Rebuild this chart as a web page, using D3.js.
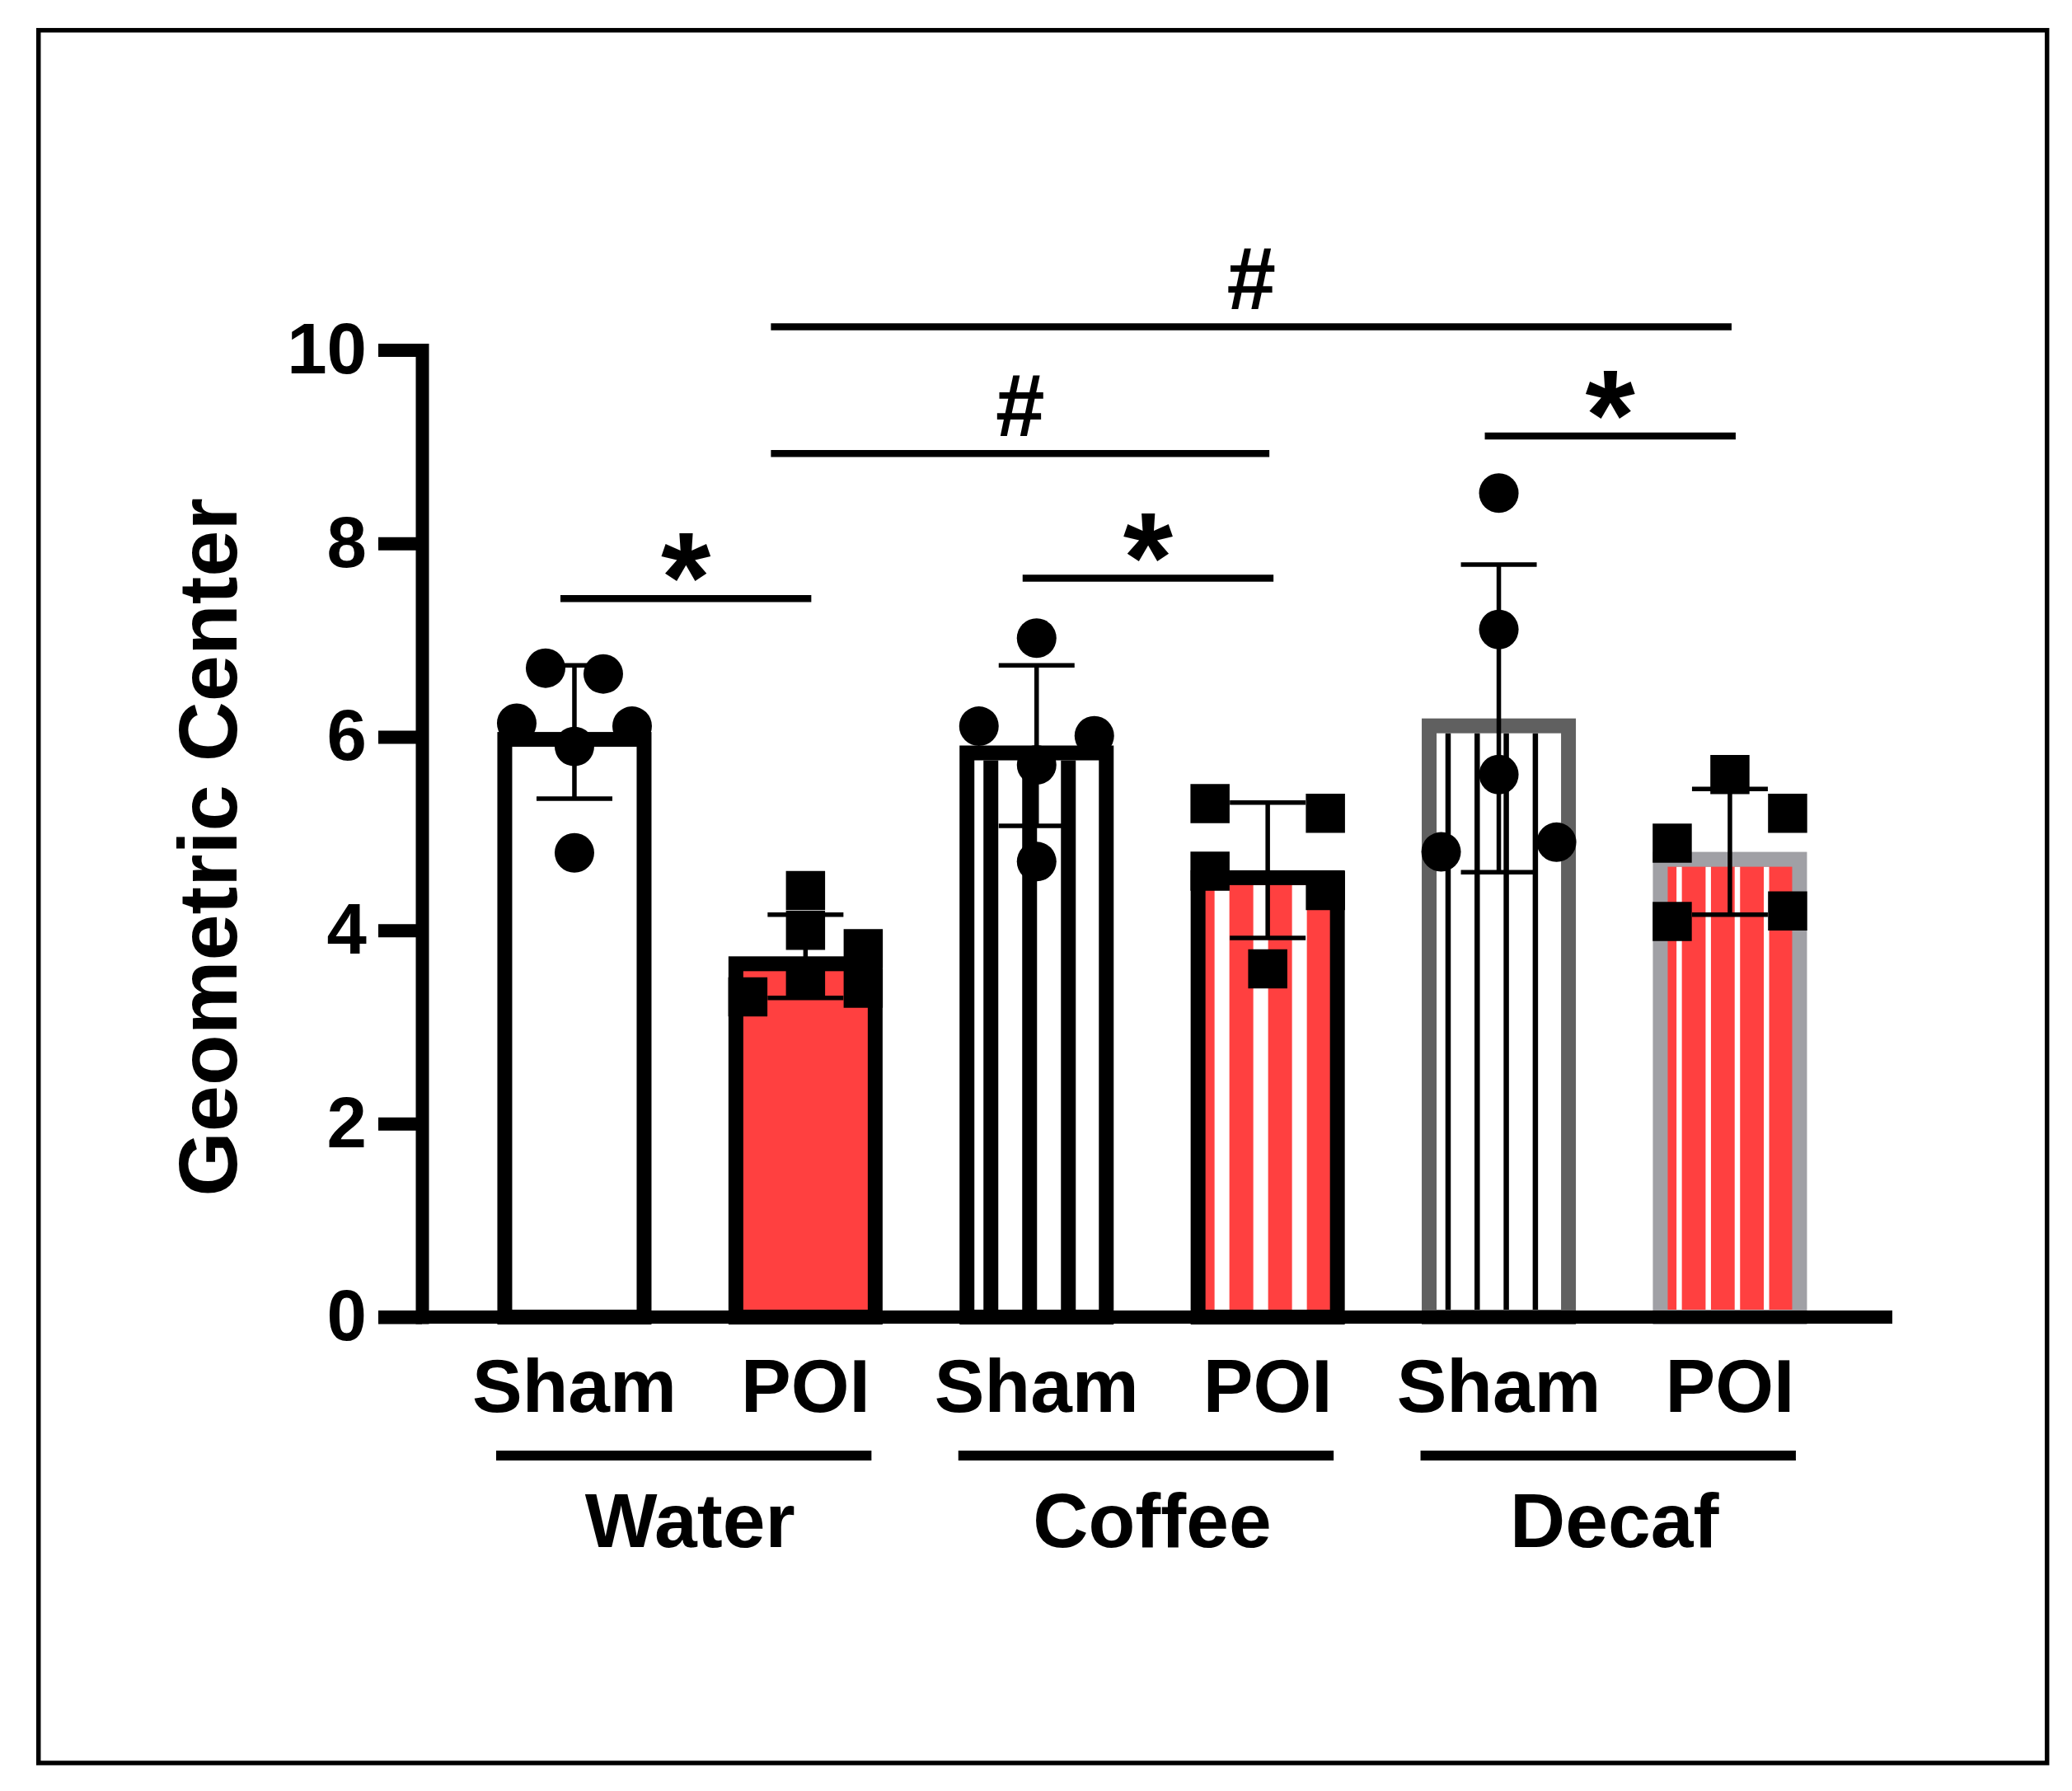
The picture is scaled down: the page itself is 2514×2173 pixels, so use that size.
<!DOCTYPE html>
<html>
<head>
<meta charset="utf-8">
<script src="https://cdn.jsdelivr.net/npm/d3@7"></script>
<style>
  html, body { margin: 0; padding: 0; background: #fff; }
  svg { display: block; }
  text { font-family: "Liberation Sans", Arial, Helvetica, sans-serif; font-weight: bold; fill: #000; }
</style>
</head>
<body>
<div id="chart"></div>
<script>
// ---- data ----
const groups = ['Water', 'Coffee', 'Decaf'];
const conditions = ['Sham', 'POI'];
const barKeys = ['Water-Sham', 'Water-POI', 'Coffee-Sham', 'Coffee-POI', 'Decaf-Sham', 'Decaf-POI'];
const barMeans = [6.05, 3.73, 5.91, 4.62, 6.19, 4.81];
const barSD = [0.69, 0.43, 0.83, 0.70, 1.59, 0.65];

// individual animals per bar
const animalValues = [
  [6.71, 6.65, 6.14, 6.11, 5.90, 4.80],
  [4.41, 4.00, 3.81, 3.40, 3.31, 3.50],
  [7.02, 6.11, 6.01, 5.71, 4.71],
  [5.31, 5.21, 4.61, 4.41, 3.60],
  [8.52, 7.11, 5.61, 4.81, 4.91],
  [5.61, 5.21, 4.90, 4.09, 4.20]
];
// horizontal scatter slot of each animal (-2 .. 2)
const animalSlots = [
  [-1, 1, -2, 2, 0, 0],
  [0, 0, 2, 2, -2, 0],
  [0, -2, 2, 0, 0],
  [-2, 2, -2, 2, 0],
  [0, 0, 0, -2, 2],
  [0, 2, -2, -2, 2]
];

const yTicks = [0, 2, 4, 6, 8, 10];

// significance bars: from bar, to bar, height (y units), mark
const comparisons = [
  ['Water-Sham', 'Water-POI', 7.43, '*'],
  ['Coffee-Sham', 'Coffee-POI', 7.64, '*'],
  ['Decaf-Sham', 'Decaf-POI', 9.11, '*'],
  ['Water-POI', 'Coffee-POI', 8.93, '#'],
  ['Water-POI', 'Decaf-POI', 10.24, '#']
];

// ---- styles ----
const RED = '#ff4040';
const barStyles = {
  'Water-Sham':  { fill: '#fff', stroke: '#000', stripe: null },
  'Water-POI':   { fill: RED,    stroke: '#000', stripe: null },
  'Coffee-Sham': { fill: '#fff', stroke: '#000', stripe: { color: '#000', start: 29, step: 47, w: 18 } },
  'Coffee-POI':  { fill: RED,    stroke: '#000', stripe: { color: '#fff', start: 29, step: 47, w: 18 } },
  'Decaf-Sham':  { fill: '#fff', stroke: '#606060', stripe: { color: '#000', start: 28.7, step: 35.3, w: 6.5 } },
  'Decaf-POI':   { fill: RED,    stroke: '#a0a0a5', stripe: { color: '#fff', start: 28.7, step: 35.3, w: 6.5 } }
};
// bracket end insets per mark type (left, right)
const bracketInset = { '*': [-17, 7], '#': [-42, 2] };

const W = 2514, H = 2173;
const barStroke = 18;
const axisStroke = 16;
const tickLen = 53;

const svg = d3.select('#chart').append('svg')
  .attr('width', W)
  .attr('height', H)
  .attr('viewBox', `0 0 ${W} ${H}`);

svg.append('rect')
  .attr('x', 0).attr('y', 0).attr('width', W).attr('height', H)
  .attr('fill', '#fff');

// frame
svg.append('rect')
  .attr('x', 46.7).attr('y', 36.7)
  .attr('width', 2437).attr('height', 2102.3)
  .attr('fill', 'none')
  .attr('stroke', '#000')
  .attr('stroke-width', 5.5);

// scales
const axisX = 512;
const y = d3.scaleLinear().domain([0, 10]).range([1598, 424.6]);
const x = d3.scaleBand()
  .domain(barKeys)
  .range([axisX, 2296])
  .paddingInner(0.333)
  .paddingOuter(0.3477)
  .align(0.469);
const bw = x.bandwidth();
const cx = k => x(k) + bw / 2;

const slotX = d3.scaleLinear().domain([-2, 2]).range([-70, 70]);

// ---- bars ----
const bars = barKeys.map((k, i) => ({ key: k, mean: barMeans[i], sd: barSD[i], style: barStyles[k] }));

const barG = svg.append('g').attr('class', 'bars')
  .selectAll('g')
  .data(bars)
  .enter()
  .append('g');

barG.append('rect')
  .attr('x', d => x(d.key) + barStroke / 2)
  .attr('y', d => y(d.mean) + barStroke / 2)
  .attr('width', bw - barStroke)
  .attr('height', d => y(0) - y(d.mean) - barStroke / 2)
  .attr('fill', d => d.style.fill);

barG.each(function(d) {
  const s = d.style.stripe;
  if (!s) return;
  const innerRight = bw - barStroke;
  const offs = d3.range(s.start, innerRight, s.step).filter(o => o + s.w <= innerRight + 0.5);
  d3.select(this).selectAll('rect.stripe')
    .data(offs)
    .enter()
    .append('rect')
    .attr('class', 'stripe')
    .attr('x', o => x(d.key) + o)
    .attr('y', y(d.mean) + barStroke)
    .attr('width', s.w)
    .attr('height', y(0) - y(d.mean) - barStroke)
    .attr('fill', s.color);
});

barG.append('rect')
  .attr('x', d => x(d.key) + barStroke / 2)
  .attr('y', d => y(d.mean) + barStroke / 2)
  .attr('width', bw - barStroke)
  .attr('height', d => y(0) - y(d.mean) - barStroke / 2)
  .attr('fill', 'none')
  .attr('stroke', d => d.style.stroke)
  .attr('stroke-width', barStroke);

// ---- error bars (mean ± SD) ----
const capHalf = 46;
const errG = svg.append('g').attr('class', 'errors')
  .selectAll('g')
  .data(bars)
  .enter()
  .append('g')
  .attr('stroke', '#000')
  .attr('stroke-width', 5.5);

errG.append('line')
  .attr('x1', d => cx(d.key)).attr('x2', d => cx(d.key))
  .attr('y1', d => y(d.mean - d.sd)).attr('y2', d => y(d.mean + d.sd));
errG.append('line')
  .attr('x1', d => cx(d.key) - capHalf).attr('x2', d => cx(d.key) + capHalf)
  .attr('y1', d => y(d.mean + d.sd)).attr('y2', d => y(d.mean + d.sd));
errG.append('line')
  .attr('x1', d => cx(d.key) - capHalf).attr('x2', d => cx(d.key) + capHalf)
  .attr('y1', d => y(d.mean - d.sd)).attr('y2', d => y(d.mean - d.sd));

// ---- individual points ----
const points = [];
barKeys.forEach((k, i) => {
  animalValues[i].forEach((v, j) => {
    points.push({ key: k, cond: k.split('-')[1], v: v, slot: animalSlots[i][j] });
  });
});

const circleSym = d3.symbol().type(d3.symbolCircle).size(Math.PI * 24 * 24);
const squareSym = d3.symbol().type(d3.symbolSquare).size(47.5 * 47.5);

svg.append('g').attr('class', 'points')
  .selectAll('path')
  .data(points)
  .enter()
  .append('path')
  .attr('d', d => d.cond === 'Sham' ? circleSym() : squareSym())
  .attr('transform', d => `translate(${cx(d.key) + slotX(d.slot)},${y(d.v)})`)
  .attr('fill', '#000');

// ---- axes ----
const yAxis = d3.axisLeft(y)
  .tickValues(yTicks)
  .tickSize(tickLen)
  .tickSizeOuter(0)
  .tickPadding(14);

const yg = svg.append('g')
  .attr('transform', `translate(${axisX},0)`)
  .call(yAxis);
yg.select('.domain')
  .attr('stroke', '#000')
  .attr('stroke-width', axisStroke)
  .attr('stroke-linecap', 'square');
yg.selectAll('.tick line')
  .attr('stroke', '#000')
  .attr('stroke-width', axisStroke);
yg.selectAll('.tick text')
  .attr('font-size', 87)
  .attr('font-family', '"Liberation Sans", Arial, Helvetica, sans-serif')
  .attr('font-weight', 'bold');

// x baseline
svg.append('line')
  .attr('x1', axisX - tickLen)
  .attr('x2', x.range()[1])
  .attr('y1', y(0)).attr('y2', y(0))
  .attr('stroke', '#000')
  .attr('stroke-width', axisStroke);

const xAxis = d3.axisBottom(x)
  .tickSize(0)
  .tickPadding(50)
  .tickFormat(k => k.split('-')[1]);

const xg = svg.append('g')
  .attr('transform', `translate(0,${y(0)})`)
  .call(xAxis);
xg.select('.domain').remove();
xg.selectAll('.tick text')
  .attr('font-size', 91)
  .attr('font-family', '"Liberation Sans", Arial, Helvetica, sans-serif')
  .attr('font-weight', 'bold');

// group underlines + labels
const groupG = svg.append('g').attr('class', 'groups')
  .selectAll('g')
  .data(groups)
  .enter()
  .append('g');

groupG.append('line')
  .attr('x1', g => cx(g + '-' + conditions[0]) - 95)
  .attr('x2', g => cx(g + '-' + conditions[1]) + 80)
  .attr('y1', 1766).attr('y2', 1766)
  .attr('stroke', '#000')
  .attr('stroke-width', 12);

groupG.append('text')
  .attr('x', g => (cx(g + '-' + conditions[0]) + cx(g + '-' + conditions[1])) / 2)
  .attr('y', 1877)
  .attr('text-anchor', 'middle')
  .attr('font-size', 93)
  .text(g => g);

// y title
svg.append('text')
  .attr('transform', 'rotate(-90)')
  .attr('x', -1028)
  .attr('y', 287)
  .attr('text-anchor', 'middle')
  .attr('font-size', 101)
  .text('Geometric Center');

// ---- significance ----
const sigG = svg.append('g').attr('class', 'sig')
  .selectAll('g')
  .data(comparisons)
  .enter()
  .append('g');

const bx1 = d => cx(d[0]) + bracketInset[d[3]][0];
const bx2 = d => cx(d[1]) + bracketInset[d[3]][1];

sigG.append('line')
  .attr('x1', bx1)
  .attr('x2', bx2)
  .attr('y1', d => y(d[2])).attr('y2', d => y(d[2]))
  .attr('stroke', '#000')
  .attr('stroke-width', 8.5);

sigG.append('text')
  .attr('x', d => (bx1(d) + bx2(d)) / 2)
  .attr('y', d => d[3] === '*' ? y(d[2]) + 28 : y(d[2]) - 21)
  .attr('text-anchor', 'middle')
  .attr('font-size', d => d[3] === '*' ? 155 : 107)
  .text(d => d[3]);
</script>
</body>
</html>
